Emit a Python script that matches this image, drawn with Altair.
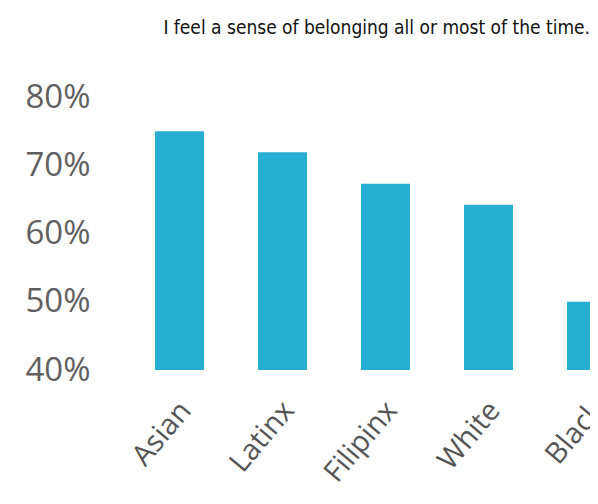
import altair as alt
import pandas as pd

groups = ["Asian", "Latinx", "Filipinx", "White", "Black"]
values = [75.0, 71.9, 67.3, 64.2, 50.0]
y_ticks = [40, 50, 60, 70, 80]
title_text = "I feel a sense of belonging all or most of the time."

df = pd.DataFrame({"group": groups, "value": values})

chart = alt.Chart(df).mark_bar(color="#27AFD3").encode(
    x=alt.X("group:N", sort=groups,
            scale=alt.Scale(range=[0, 515], paddingInner=0.524, paddingOuter=0.262),
            axis=alt.Axis(title=None, domain=False, ticks=False, labelAngle=-50,
                          labelAlign="right", labelBaseline="middle",
                          labelFont="Open Sans", labelFontSize=29, labelColor="#555555",
                          labelPadding=35, labelOffset=6, labelOverlap=False)),
    y=alt.Y("value:Q", scale=alt.Scale(domain=[40, 80], nice=False, zero=False),
            axis=alt.Axis(title=None, domain=False, ticks=False, grid=False,
                          values=y_ticks, labelExpr="datum.value + '%'",
                          labelFont="Open Sans", labelFontSize=33, labelColor="#5f5f5f",
                          labelPadding=38)),
    y2=alt.datum(40),
).properties(
    width=462, height=273,
    autosize=alt.AutoSizeParams(type="none"),
    padding={"left": 120, "top": 89, "right": 0, "bottom": 122},
    title=alt.TitleParams(title_text, anchor="end", frame="group",
                          font="DejaVu Sans Condensed",
                          fontSize=19, fontWeight="normal", color="#111111",
                          baseline="alphabetic", offset=28, dx=0),
).configure_view(stroke=None)

chart.save("out.html", embed_options={"renderer": "svg", "actions": False})
